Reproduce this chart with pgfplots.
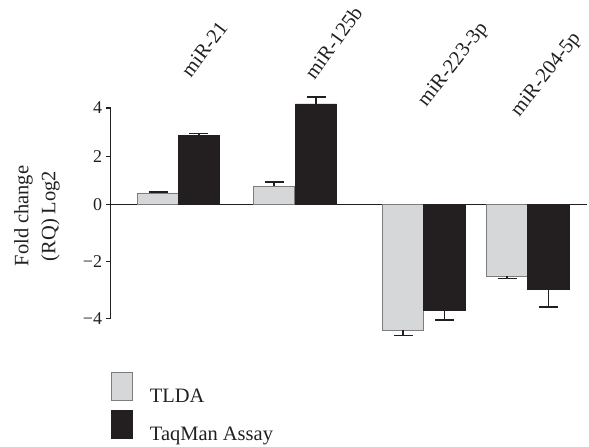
\documentclass[border=0pt]{standalone}
\usepackage{fontspec}
\setmainfont{Liberation Serif}
\usepackage{pgfplots}
\pgfplotsset{compat=1.18}
\definecolor{tlda}{RGB}{213,215,217}
\definecolor{tldaedge}{RGB}{125,125,125}
\definecolor{tq}{RGB}{35,31,32}
\pgfplotsset{
  mybar/.style={ybar, bar width=41.3pt, bar shift=0pt, forget plot},
  myerr/.style={error bars/.cd, y explicit, y dir=#1,
    error mark=-,
    error bar style={line width=1.5pt, color=tq},
    error mark options={rotate=90, line width=1.5pt, mark size=9.5pt, color=tq}},
}
\begin{document}
\begin{tikzpicture}
\begin{axis}[
  at={(110.7pt,128.3pt)}, anchor=south west,
  scale only axis, width=477.3pt, height=210.7pt,
  xmin=110.7, xmax=588,
  ymin=-4, ymax=4,
  y coord trafo/.code={\pgfmathparse{(#1)<0 ? 1.18*(#1) : (#1)}},
  axis y line=left, axis x line=middle,
  axis line style={line width=1.3pt, color=tq, -},
  xtick=\empty,
  ytick={-4,-2,0,2,4},
  yticklabels={−4,−2,0,2,4},
  tick style={line width=1.3pt, color=tq},
  major tick length=5pt, tick align=outside,
  yticklabel style={font=\fontsize{18}{21}\selectfont, text=tq},
  clip=false,
  ylabel={Fold change\\(RQ) Log2},
  ylabel style={align=center, font=\fontsize{20.5}{27}\selectfont, text=tq,
    at={(axis description cs:-0.1544,0.487)}, anchor=center},
  legend image code/.code={\draw[#1, line width=0.8pt] (0pt,-4pt) rectangle (22pt,24pt);},
  legend style={at={(axis description cs:0,-0.2544)}, anchor=north west,
    draw=none, fill=none, inner sep=0pt, outer sep=0pt,
    row sep=6pt, column sep=16.7pt,
    nodes={inner sep=0pt, font=\fontsize{20.5}{24}\selectfont, text=tq}},
  legend cell align=left,
]
% TLDA
\addplot[mybar, fill=tlda, draw=tldaedge, line width=0.8pt, myerr=plus]
  coordinates {(158.3,0.48) +- (0,0.04) (274.5,0.76) +- (0,0.17)};
\addplot[mybar, fill=tlda, draw=tldaedge, line width=0.8pt, myerr=minus]
  coordinates {(403.8,-4.41) +- (0,0.23) (508.0,-2.51) +- (0,0.10)};
% TaqMan Assay
\addplot[mybar, fill=tq, draw=tq, line width=0.8pt, myerr=plus]
  coordinates {(199.2,2.87) +- (0,0.07) (316.6,4.17) +- (0,0.29)};
\addplot[mybar, fill=tq, draw=tq, line width=0.8pt, myerr=minus]
  coordinates {(445.2,-3.71) +- (0,0.41) (549.4,-2.98) +- (0,0.73)};

\addlegendimage{fill=tlda, draw=tldaedge}
\addlegendentry{TLDA}
\addlegendimage{fill=tq, draw=tq}
\addlegendentry{TaqMan Assay}

\node[rotate=53, anchor=base west, font=\fontsize{20.5}{24}\selectfont, text=tq] at (axis cs:189,5.12) {miR-21};
\node[rotate=54, anchor=base west, font=\fontsize{20.5}{24}\selectfont, text=tq] at (axis cs:313,5.04) {miR-125b};
\node[rotate=52, anchor=base west, font=\fontsize{20.5}{24}\selectfont, text=tq] at (axis cs:425,3.92) {miR-223-3p};
\node[rotate=52, anchor=base west, font=\fontsize{20.5}{24}\selectfont, text=tq] at (axis cs:518,3.51) {miR-204-5p};
\end{axis}
\path[use as bounding box] (0,0) rectangle (589pt,444pt);
\end{tikzpicture}
\end{document}
